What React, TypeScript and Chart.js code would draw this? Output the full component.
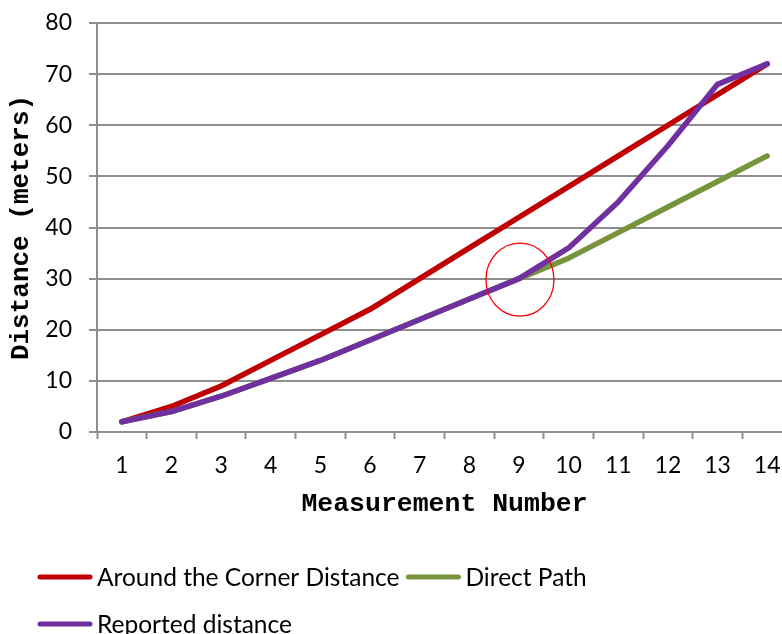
import React, { useEffect, useRef } from "react";
import { Chart, registerables } from "chart.js";

Chart.register(...registerables);

// ---- data ----
const categories = ["1", "2", "3", "4", "5", "6", "7", "8", "9", "10", "11", "12", "13", "14"];
const aroundCorner = [2, 5, 9, 14, 19, 24, 30, 36, 42, 48, 54, 60, 66, 72];
const directPath = [2, 4, 7, 10.5, 14, 18, 22, 26, 30, 34, 39, 44, 49, 54];
const reported = [2, 4, 7, 10.5, 14, 18, 22, 26, 30, 36, 45, 56, 68, 72];
const seriesLabels = ["Around the Corner Distance", "Direct Path", "Reported distance"];
const yMin = 0;
const yMax = 80;
const yStep = 10;
const xTitle = "Measurement Number";
const yTitle = "Distance (meters)";
const highlightCategory = "9";
const highlightValue = 30;

// ---- styles ----
const COLORS = ["#C00000", "#77933C", "#7030A0"];
const GRID = "#8e8e8e";
const TICK_FONT = "Lato";
const TITLE_FONT = "'Liberation Mono', 'Courier New', monospace";

const legendPlugin = {
  id: "bottomLegend",
  afterDraw(chart: any) {
    const ctx = chart.ctx;
    const xs = chart.scales.x;
    const ds = chart.data.datasets;
    const rows = [[0, 1], [2]];
    ctx.save();
    ctx.font = `24.5px ${TICK_FONT}`;
    ctx.textBaseline = "middle";
    ctx.textAlign = "left";
    rows.forEach((row, r) => {
      let x = 38;
      const y = xs.bottom + 53 + r * 47;
      row.forEach((i) => {
        const d = ds[i];
        ctx.strokeStyle = d.borderColor;
        ctx.lineWidth = 5;
        ctx.lineCap = "round";
        ctx.beginPath();
        ctx.moveTo(x + 2, y);
        ctx.lineTo(x + 52, y);
        ctx.stroke();
        ctx.fillStyle = "#000";
        ctx.fillText(d.label, x + 59, y + 1);
        x += 59 + ctx.measureText(d.label).width + 7;
      });
    });
    ctx.restore();
  },
};

const circlePlugin = {
  id: "highlightCircle",
  afterDatasetsDraw(chart: any) {
    const ctx = chart.ctx;
    const xs = chart.scales.x;
    const ys = chart.scales.y;
    const cx = xs.getPixelForValue(categories.indexOf(highlightCategory));
    const cy = ys.getPixelForValue(highlightValue);
    ctx.save();
    ctx.strokeStyle = "#FF0000";
    ctx.lineWidth = 1.3;
    ctx.beginPath();
    ctx.ellipse(cx + 1, cy + 1, 34, 36.5, 0, 0, Math.PI * 2);
    ctx.stroke();
    ctx.restore();
  },
};

export default function App() {
  const ref = useRef<HTMLCanvasElement | null>(null);

  useEffect(() => {
    if (!ref.current) return;
    const series = [aroundCorner, directPath, reported];
    const chart = new Chart(ref.current, {
      type: "line",
      data: {
        labels: categories,
        datasets: series.map((values, i) => ({
          label: seriesLabels[i],
          data: values,
          borderColor: COLORS[i],
          backgroundColor: COLORS[i],
          borderWidth: 5.5,
          pointRadius: 0,
          pointHoverRadius: 0,
          tension: 0,
          fill: false,
          borderCapStyle: "round",
          borderJoinStyle: "round",
          order: 2 - i,
        })),
      },
      options: {
        animation: false,
        responsive: false,
        devicePixelRatio: 1,
        layout: { padding: { left: 0, right: 8, top: 23, bottom: 110 } },
        plugins: {
          legend: { display: false },
          tooltip: { enabled: false },
        },
        scales: {
          x: {
            type: "category",
            offset: true,
            afterFit: (s: any) => {
              s.height = 92;
            },
            grid: {
              offset: true,
              drawOnChartArea: false,
              drawTicks: true,
              tickLength: 7,
              tickWidth: 2,
              tickColor: GRID,
            },
            border: { color: GRID, width: 2 },
            ticks: {
              color: "#000",
              font: { family: TICK_FONT, size: 23 },
              padding: 13,
              maxRotation: 0,
              autoSkip: false,
            },
            title: {
              display: true,
              text: xTitle,
              color: "#000",
              font: { family: TITLE_FONT, size: 26.5, weight: "bold" },
              padding: { top: 0, bottom: 4 },
            },
          },
          y: {
            min: yMin,
            max: yMax,
            afterFit: (s: any) => {
              s.width = 97;
              s.paddingTop = 0;
              s.paddingBottom = 0;
            },
            grid: {
              color: GRID,
              lineWidth: 2,
              drawTicks: true,
              tickLength: 8,
              tickColor: GRID,
            },
            border: { color: GRID, width: 2 },
            ticks: {
              stepSize: yStep,
              color: "#000",
              font: { family: TICK_FONT, size: 23 },
              padding: 17,
            },
            title: {
              display: true,
              text: yTitle,
              color: "#000",
              font: { family: TITLE_FONT, size: 26, weight: "bold" },
              padding: { top: 6, bottom: 0 },
            },
          },
        },
      },
      plugins: [circlePlugin, legendPlugin],
    });
    return () => chart.destroy();
  }, []);

  return (
    <div
      style={{
        position: "absolute",
        left: 0,
        top: 0,
        width: 782,
        height: 634,
        overflow: "hidden",
        background: "#fff",
      }}
    >
      <canvas ref={ref} width={800} height={634} style={{ display: "block", width: 800, height: 634 }} />
    </div>
  );
}
